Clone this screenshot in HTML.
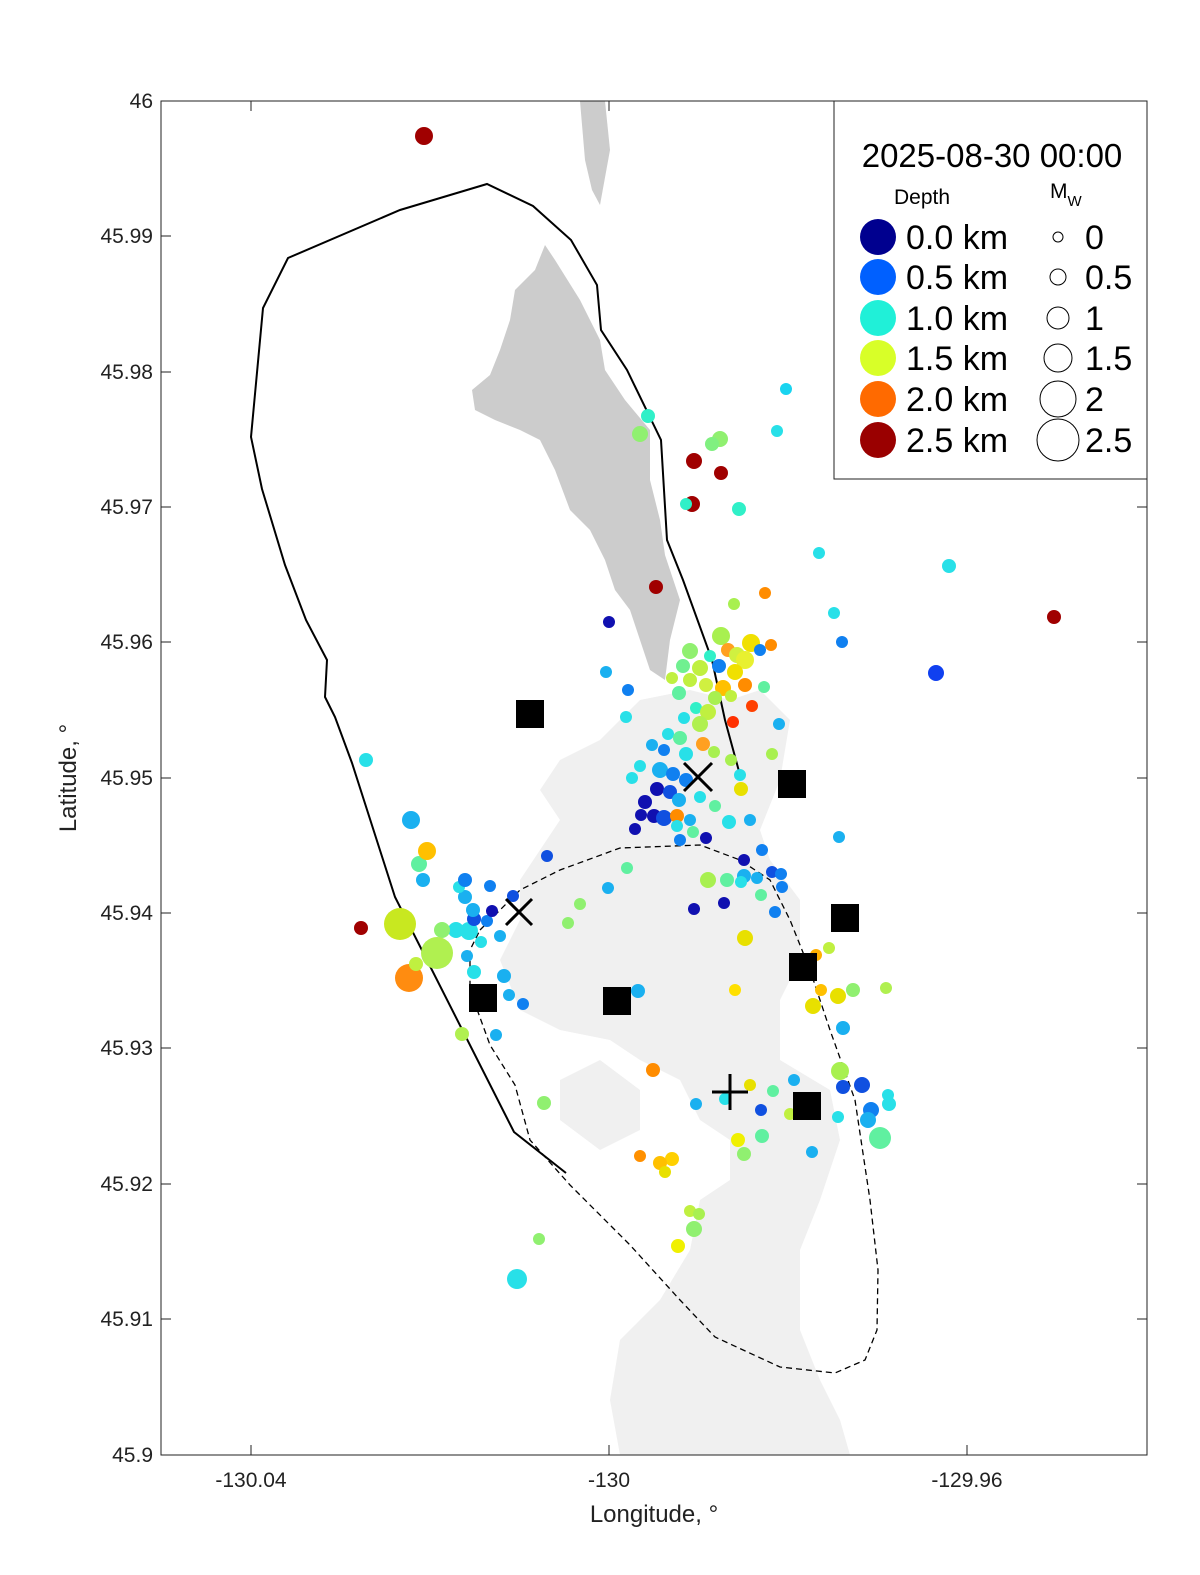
<!DOCTYPE html>
<html><head><meta charset="utf-8"><style>
html,body{margin:0;padding:0;background:#fff;overflow:hidden;width:1200px;height:1575px}
svg{display:block}
svg text{font-family:"Liberation Sans",sans-serif}
</style></head><body>
<svg width="1200" height="1575" viewBox="0 0 1200 1575" xmlns="http://www.w3.org/2000/svg">
<rect width="1200" height="1575" fill="#fff"/>
<defs><clipPath id="c"><rect x="161" y="101" width="986" height="1354"/></clipPath></defs>
<g clip-path="url(#c)">
<path fill="#f0f0f0" d="M560,760 L600,740 L640,700 L690,690 L730,700 L760,690 L790,720 L780,780 L760,830 L770,860 L800,900 L800,960 L780,1000 L780,1060 L830,1090 L840,1140 L820,1200 L800,1250 L800,1330 L820,1380 L840,1420 L850,1455 L620,1455 L610,1400 L620,1340 L660,1300 L690,1250 L700,1200 L730,1180 L730,1140 L700,1120 L680,1080 L640,1060 L610,1040 L560,1030 L520,1010 L500,960 L520,920 L520,880 L540,850 L560,820 L540,790 Z"/>
<path fill="#f0f0f0" d="M560,1080 L600,1060 L640,1090 L640,1130 L600,1150 L560,1120 Z"/>
<path fill="#cccccc" d="M580,101 L605,101 L610,150 L600,205 L592,190 L585,160 Z"/>
<path fill="#cccccc" d="M545,245 L555,260 L580,300 L600,340 L605,370 L625,400 L650,430 L650,480 L660,520 L665,555 L680,600 L670,640 L665,680 L650,670 L640,640 L630,610 L615,590 L605,560 L590,530 L570,510 L555,470 L540,440 L520,430 L495,420 L475,410 L472,390 L490,375 L500,350 L510,320 L515,290 L535,270 Z"/>
<polyline fill="none" stroke="#000" stroke-width="2" points="566,1173 514,1132 395,897 352,763 335,717 325,697 327,660 306,620 285,565 262,489 251,437 263,308 288,258 400,210 487,184 533,206 571,240 597,285 601,330 627,370 661,440 667,540 683,580 712,660 725,720 740,775"/>
<polyline fill="none" stroke="#000" stroke-width="1.3" stroke-dasharray="6,4" points="480,930 520,890 560,870 620,848 700,845 740,860 770,880 790,920 810,970 830,1030 855,1100 870,1200 878,1270 877,1330 865,1360 835,1373 780,1367 715,1337 680,1300 630,1245 570,1185 530,1140 515,1085 490,1045 470,990 470,950 480,930"/>
<g>
<circle cx="424" cy="136" r="9" fill="#a00000"/>
<circle cx="786" cy="389" r="6" fill="#19d4f0"/>
<circle cx="648" cy="416" r="7" fill="#30f0c8"/>
<circle cx="640" cy="434" r="8" fill="#90f070"/>
<circle cx="777" cy="431" r="6" fill="#28e0e8"/>
<circle cx="720" cy="439" r="8" fill="#90f070"/>
<circle cx="712" cy="444" r="7" fill="#80f080"/>
<circle cx="694" cy="461" r="8" fill="#a00000"/>
<circle cx="721" cy="473" r="7" fill="#a00000"/>
<circle cx="692" cy="504" r="8" fill="#a00000"/>
<circle cx="686" cy="504" r="6" fill="#30f0c8"/>
<circle cx="739" cy="509" r="7" fill="#30f0c8"/>
<circle cx="819" cy="553" r="6" fill="#28e0e8"/>
<circle cx="949" cy="566" r="7" fill="#28e0e8"/>
<circle cx="656" cy="587" r="7" fill="#a00000"/>
<circle cx="765" cy="593" r="6" fill="#ff8c00"/>
<circle cx="734" cy="604" r="6" fill="#a8f050"/>
<circle cx="834" cy="613" r="6" fill="#28e0e8"/>
<circle cx="1054" cy="617" r="7" fill="#a00000"/>
<circle cx="609" cy="622" r="6" fill="#1010b0"/>
<circle cx="842" cy="642" r="6" fill="#1080f0"/>
<circle cx="936" cy="673" r="8" fill="#1040f0"/>
<circle cx="721" cy="636" r="9" fill="#a8f050"/>
<circle cx="751" cy="643" r="9" fill="#f0e000"/>
<circle cx="771" cy="645" r="6" fill="#ff8c00"/>
<circle cx="690" cy="651" r="8" fill="#90f070"/>
<circle cx="728" cy="650" r="7" fill="#ffa020"/>
<circle cx="737" cy="655" r="8" fill="#d0f040"/>
<circle cx="710" cy="656" r="6" fill="#30f0c8"/>
<circle cx="760" cy="650" r="6" fill="#1080f0"/>
<circle cx="745" cy="660" r="9" fill="#e8f030"/>
<circle cx="683" cy="666" r="7" fill="#70f090"/>
<circle cx="700" cy="668" r="8" fill="#c0f040"/>
<circle cx="719" cy="666" r="7" fill="#1080f0"/>
<circle cx="735" cy="672" r="8" fill="#f0e000"/>
<circle cx="606" cy="672" r="6" fill="#1ab0f0"/>
<circle cx="672" cy="678" r="6" fill="#c0f040"/>
<circle cx="690" cy="680" r="7" fill="#c0f040"/>
<circle cx="706" cy="685" r="7" fill="#d0f040"/>
<circle cx="723" cy="688" r="8" fill="#ffc000"/>
<circle cx="745" cy="685" r="7" fill="#ff8c00"/>
<circle cx="764" cy="687" r="6" fill="#60f0a0"/>
<circle cx="628" cy="690" r="6" fill="#1080f0"/>
<circle cx="679" cy="693" r="7" fill="#60f0a0"/>
<circle cx="715" cy="698" r="7" fill="#a8f050"/>
<circle cx="731" cy="696" r="6" fill="#c0f040"/>
<circle cx="752" cy="706" r="6" fill="#ff4000"/>
<circle cx="696" cy="708" r="6" fill="#30f0c8"/>
<circle cx="708" cy="712" r="8" fill="#c0f040"/>
<circle cx="684" cy="718" r="6" fill="#28e0e8"/>
<circle cx="700" cy="724" r="8" fill="#b0f050"/>
<circle cx="733" cy="722" r="6" fill="#ff3000"/>
<circle cx="779" cy="724" r="6" fill="#1ab0f0"/>
<circle cx="626" cy="717" r="6" fill="#28e0e8"/>
<circle cx="668" cy="734" r="6" fill="#28e0e8"/>
<circle cx="680" cy="738" r="7" fill="#60f0a0"/>
<circle cx="703" cy="744" r="7" fill="#ffa020"/>
<circle cx="652" cy="745" r="6" fill="#1ab0f0"/>
<circle cx="664" cy="750" r="6" fill="#1080f0"/>
<circle cx="686" cy="754" r="7" fill="#28e0e8"/>
<circle cx="772" cy="754" r="6" fill="#a8f050"/>
<circle cx="714" cy="752" r="6" fill="#a8f050"/>
<circle cx="731" cy="760" r="6" fill="#a8f050"/>
<circle cx="640" cy="766" r="6" fill="#28e0e8"/>
<circle cx="660" cy="770" r="8" fill="#1ab0f0"/>
<circle cx="673" cy="774" r="7" fill="#1080f0"/>
<circle cx="686" cy="780" r="7" fill="#1080f0"/>
<circle cx="740" cy="775" r="6" fill="#28e0e8"/>
<circle cx="632" cy="778" r="6" fill="#28e0e8"/>
<circle cx="741" cy="789" r="7" fill="#e8e000"/>
<circle cx="657" cy="789" r="7" fill="#1010b0"/>
<circle cx="670" cy="792" r="7" fill="#1050e0"/>
<circle cx="679" cy="800" r="7" fill="#1ab0f0"/>
<circle cx="700" cy="797" r="6" fill="#28e0e8"/>
<circle cx="645" cy="802" r="7" fill="#1010b0"/>
<circle cx="715" cy="806" r="6" fill="#60f0a0"/>
<circle cx="641" cy="815" r="6" fill="#1010b0"/>
<circle cx="654" cy="816" r="7" fill="#1010b0"/>
<circle cx="664" cy="818" r="8" fill="#1050e0"/>
<circle cx="677" cy="816" r="7" fill="#ff8c00"/>
<circle cx="690" cy="820" r="6" fill="#1ab0f0"/>
<circle cx="729" cy="822" r="7" fill="#28e0e8"/>
<circle cx="750" cy="820" r="6" fill="#1ab0f0"/>
<circle cx="635" cy="829" r="6" fill="#1010b0"/>
<circle cx="677" cy="826" r="6" fill="#28e0e8"/>
<circle cx="693" cy="832" r="6" fill="#60f0a0"/>
<circle cx="680" cy="840" r="6" fill="#1080f0"/>
<circle cx="706" cy="838" r="6" fill="#1010b0"/>
<circle cx="839" cy="837" r="6" fill="#1ab0f0"/>
<circle cx="547" cy="856" r="6" fill="#1050e0"/>
<circle cx="762" cy="850" r="6" fill="#1080f0"/>
<circle cx="744" cy="860" r="6" fill="#1010b0"/>
<circle cx="627" cy="868" r="6" fill="#60f0a0"/>
<circle cx="772" cy="872" r="6" fill="#1050e0"/>
<circle cx="781" cy="874" r="6" fill="#1080f0"/>
<circle cx="744" cy="876" r="7" fill="#1ab0f0"/>
<circle cx="708" cy="880" r="8" fill="#a8f050"/>
<circle cx="727" cy="880" r="7" fill="#60f0a0"/>
<circle cx="741" cy="882" r="6" fill="#28e0e8"/>
<circle cx="757" cy="878" r="6" fill="#1ab0f0"/>
<circle cx="782" cy="887" r="6" fill="#1080f0"/>
<circle cx="608" cy="888" r="6" fill="#1ab0f0"/>
<circle cx="761" cy="895" r="6" fill="#60f0a0"/>
<circle cx="724" cy="903" r="6" fill="#1010b0"/>
<circle cx="694" cy="909" r="6" fill="#1010b0"/>
<circle cx="775" cy="912" r="6" fill="#1080f0"/>
<circle cx="580" cy="904" r="6" fill="#90f070"/>
<circle cx="568" cy="923" r="6" fill="#90f070"/>
<circle cx="745" cy="938" r="8" fill="#e8e000"/>
<circle cx="829" cy="948" r="6" fill="#c0f040"/>
<circle cx="816" cy="955" r="6" fill="#ffb000"/>
<circle cx="735" cy="990" r="6" fill="#ffe000"/>
<circle cx="821" cy="990" r="6" fill="#ffc000"/>
<circle cx="838" cy="996" r="8" fill="#e8e000"/>
<circle cx="853" cy="990" r="7" fill="#90f070"/>
<circle cx="886" cy="988" r="6" fill="#b0f050"/>
<circle cx="813" cy="1006" r="8" fill="#e8e000"/>
<circle cx="843" cy="1028" r="7" fill="#1ab0f0"/>
<circle cx="638" cy="991" r="7" fill="#1ab0f0"/>
<circle cx="653" cy="1070" r="7" fill="#ff8c00"/>
<circle cx="840" cy="1071" r="9" fill="#a8f050"/>
<circle cx="794" cy="1080" r="6" fill="#1ab0f0"/>
<circle cx="862" cy="1085" r="8" fill="#1050e0"/>
<circle cx="843" cy="1087" r="7" fill="#1050e0"/>
<circle cx="888" cy="1095" r="6" fill="#28e0e8"/>
<circle cx="773" cy="1091" r="6" fill="#60f0a0"/>
<circle cx="750" cy="1085" r="6" fill="#e8e000"/>
<circle cx="725" cy="1099" r="6" fill="#28e0e8"/>
<circle cx="696" cy="1104" r="6" fill="#1ab0f0"/>
<circle cx="889" cy="1104" r="7" fill="#28e0e8"/>
<circle cx="871" cy="1110" r="8" fill="#1080f0"/>
<circle cx="868" cy="1120" r="8" fill="#1ab0f0"/>
<circle cx="761" cy="1110" r="6" fill="#1050e0"/>
<circle cx="790" cy="1114" r="6" fill="#c0f040"/>
<circle cx="838" cy="1117" r="6" fill="#28e0e8"/>
<circle cx="880" cy="1138" r="11" fill="#60f0a0"/>
<circle cx="762" cy="1136" r="7" fill="#60f0a0"/>
<circle cx="738" cy="1140" r="7" fill="#f0f000"/>
<circle cx="744" cy="1154" r="7" fill="#90f070"/>
<circle cx="812" cy="1152" r="6" fill="#1ab0f0"/>
<circle cx="640" cy="1156" r="6" fill="#ff9000"/>
<circle cx="672" cy="1159" r="7" fill="#ffd000"/>
<circle cx="660" cy="1163" r="7" fill="#ffc000"/>
<circle cx="665" cy="1172" r="6" fill="#e8e000"/>
<circle cx="690" cy="1211" r="6" fill="#c0f040"/>
<circle cx="699" cy="1214" r="6" fill="#a8f050"/>
<circle cx="694" cy="1229" r="8" fill="#90f070"/>
<circle cx="678" cy="1246" r="7" fill="#f0f000"/>
<circle cx="539" cy="1239" r="6" fill="#90f070"/>
<circle cx="517" cy="1279" r="10" fill="#28e0e8"/>
<circle cx="544" cy="1103" r="7" fill="#90f070"/>
<circle cx="462" cy="1034" r="7" fill="#b0f050"/>
<circle cx="496" cy="1035" r="6" fill="#1ab0f0"/>
<circle cx="509" cy="995" r="6" fill="#1ab0f0"/>
<circle cx="523" cy="1004" r="6" fill="#1080f0"/>
<circle cx="504" cy="976" r="7" fill="#1ab0f0"/>
<circle cx="474" cy="972" r="7" fill="#28e0e8"/>
<circle cx="467" cy="956" r="6" fill="#1ab0f0"/>
<circle cx="481" cy="942" r="6" fill="#28e0e8"/>
<circle cx="500" cy="936" r="6" fill="#1ab0f0"/>
<circle cx="456" cy="930" r="8" fill="#28e0e8"/>
<circle cx="469" cy="931" r="9" fill="#28e0e8"/>
<circle cx="442" cy="930" r="8" fill="#90f070"/>
<circle cx="437" cy="953" r="16" fill="#b0f050"/>
<circle cx="400" cy="924" r="16" fill="#c8e820"/>
<circle cx="409" cy="978" r="14" fill="#ff8c10"/>
<circle cx="416" cy="964" r="7" fill="#c0f040"/>
<circle cx="361" cy="928" r="7" fill="#a00000"/>
<circle cx="474" cy="919" r="7" fill="#1050e0"/>
<circle cx="487" cy="921" r="6" fill="#1080f0"/>
<circle cx="492" cy="911" r="6" fill="#1010b0"/>
<circle cx="513" cy="896" r="6" fill="#1050e0"/>
<circle cx="473" cy="910" r="7" fill="#1ab0f0"/>
<circle cx="465" cy="897" r="7" fill="#1ab0f0"/>
<circle cx="459" cy="887" r="6" fill="#28e0e8"/>
<circle cx="465" cy="880" r="7" fill="#1080f0"/>
<circle cx="490" cy="886" r="6" fill="#1080f0"/>
<circle cx="423" cy="880" r="7" fill="#1ab0f0"/>
<circle cx="419" cy="864" r="8" fill="#60f0a0"/>
<circle cx="427" cy="851" r="9" fill="#ffc000"/>
<circle cx="411" cy="820" r="9" fill="#1ab0f0"/>
<circle cx="366" cy="760" r="7" fill="#28e0e8"/>
</g>
<g fill="#000">
<rect x="516" y="700" width="28" height="28"/>
<rect x="778" y="770" width="28" height="28"/>
<rect x="831" y="904" width="28" height="28"/>
<rect x="789" y="953" width="28" height="28"/>
<rect x="469" y="984" width="28" height="28"/>
<rect x="603" y="987" width="28" height="28"/>
<rect x="793" y="1092" width="28" height="28"/>
</g>
<g stroke="#000" stroke-width="3">
<line x1="684" y1="763" x2="712" y2="791"/><line x1="712" y1="763" x2="684" y2="791"/>
<line x1="506" y1="899" x2="532" y2="925"/><line x1="532" y1="899" x2="506" y2="925"/>
<line x1="730" y1="1074" x2="730" y2="1110"/><line x1="712" y1="1092" x2="748" y2="1092"/>
</g>
</g>
<rect x="161" y="101" width="986" height="1354" fill="none" stroke="#222" stroke-width="1"/>
<g stroke="#222" stroke-width="1">
<line x1="251" y1="1455" x2="251" y2="1445"/><line x1="609" y1="1455" x2="609" y2="1445"/><line x1="967" y1="1455" x2="967" y2="1445"/>
<line x1="251" y1="101" x2="251" y2="111"/><line x1="609" y1="101" x2="609" y2="111"/><line x1="967" y1="101" x2="967" y2="111"/>
<line x1="161" y1="236" x2="171" y2="236"/><line x1="161" y1="372" x2="171" y2="372"/><line x1="161" y1="507" x2="171" y2="507"/><line x1="161" y1="642" x2="171" y2="642"/><line x1="161" y1="778" x2="171" y2="778"/><line x1="161" y1="913" x2="171" y2="913"/><line x1="161" y1="1048" x2="171" y2="1048"/><line x1="161" y1="1184" x2="171" y2="1184"/><line x1="161" y1="1319" x2="171" y2="1319"/>
<line x1="1147" y1="236" x2="1137" y2="236"/><line x1="1147" y1="372" x2="1137" y2="372"/><line x1="1147" y1="507" x2="1137" y2="507"/><line x1="1147" y1="642" x2="1137" y2="642"/><line x1="1147" y1="778" x2="1137" y2="778"/><line x1="1147" y1="913" x2="1137" y2="913"/><line x1="1147" y1="1048" x2="1137" y2="1048"/><line x1="1147" y1="1184" x2="1137" y2="1184"/><line x1="1147" y1="1319" x2="1137" y2="1319"/>
</g>
<g font-size="21" fill="#222" text-anchor="end">
<text x="153" y="108">46</text><text x="153" y="243">45.99</text><text x="153" y="379">45.98</text><text x="153" y="514">45.97</text><text x="153" y="649">45.96</text><text x="153" y="785">45.95</text><text x="153" y="920">45.94</text><text x="153" y="1055">45.93</text><text x="153" y="1191">45.92</text><text x="153" y="1326">45.91</text><text x="153" y="1462">45.9</text>
</g>
<g font-size="21" fill="#222" text-anchor="middle">
<text x="251" y="1487">-130.04</text><text x="609" y="1487">-130</text><text x="967" y="1487">-129.96</text>
<text x="654" y="1522" font-size="24">Longitude, °</text>
</g>
<text transform="translate(76,778) rotate(-90)" font-size="24" text-anchor="middle" fill="#222">Latitude, °</text>
<rect x="834" y="101" width="313" height="378" fill="#fff" stroke="#222"/>
<text x="992" y="167" font-size="33" text-anchor="middle" fill="#000">2025-08-30 00:00</text>
<text x="922" y="204" font-size="21" text-anchor="middle" fill="#000">Depth</text>
<text x="1050" y="198" font-size="21" fill="#000">M<tspan font-size="15" dy="8">W</tspan></text>
<g font-size="34" fill="#000">
<circle cx="878" cy="237" r="18" fill="#00008f"/><text x="906" y="249">0.0 km</text>
<circle cx="878" cy="277" r="18" fill="#0060ff"/><text x="906" y="289">0.5 km</text>
<circle cx="878" cy="318" r="18" fill="#20f0d8"/><text x="906" y="330">1.0 km</text>
<circle cx="878" cy="358" r="18" fill="#d8ff28"/><text x="906" y="370">1.5 km</text>
<circle cx="878" cy="399" r="18" fill="#ff6a00"/><text x="906" y="411">2.0 km</text>
<circle cx="878" cy="440" r="18" fill="#9a0000"/><text x="906" y="452">2.5 km</text>
<g fill="none" stroke="#000" stroke-width="1">
<circle cx="1058" cy="237" r="5"/><circle cx="1058" cy="277" r="8"/><circle cx="1058" cy="318" r="11"/><circle cx="1058" cy="358" r="14"/><circle cx="1058" cy="399" r="18"/><circle cx="1058" cy="440" r="21"/>
</g>
<text x="1085" y="249">0</text><text x="1085" y="289">0.5</text><text x="1085" y="330">1</text><text x="1085" y="370">1.5</text><text x="1085" y="411">2</text><text x="1085" y="452">2.5</text>
</g>
</svg>
</body></html>
